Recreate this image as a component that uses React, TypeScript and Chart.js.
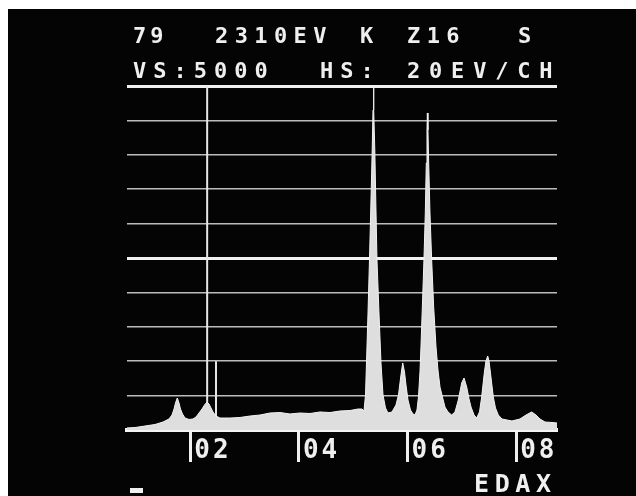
import { useEffect, useRef } from "react";
import { Chart, registerables } from "chart.js";

Chart.register(...registerables);

// ---- screen texts ----
const headerLine1 = ["79", "2310EV", "K", "Z16", "S"];
const headerLine2 = ["VS:5000", "HS:", "20EV/CH"];
const footerText = "EDAX";

// ---- axes ----
const xMinKeV = 0.834;
const xMaxKeV = 8.752;
const yMaxCounts = 5000;
const yStepCounts = 500;
const tickValues = [2, 4, 6, 8];
const tickLabels = ["02", "04", "06", "08"];

// ---- spectrum (energy in keV, counts) ----
const energies = [
  0.834, 0.981, 1.166, 1.35, 1.497, 1.607, 1.663, 1.7, 1.727, 1.76, 1.792, 1.819, 1.856, 1.902,
  1.976, 2.049, 2.105, 2.16, 2.215, 2.261, 2.307, 2.344, 2.381, 2.418, 2.473, 2.547, 2.731, 2.915,
  3.099, 3.283, 3.467, 3.651, 3.835, 4.019, 4.204, 4.388, 4.572, 4.756, 4.94, 5.087, 5.161, 5.198,
  5.226, 5.244, 5.272, 5.299, 5.327, 5.349, 5.364, 5.371, 5.382, 5.397, 5.415, 5.437, 5.474, 5.511,
  5.548, 5.594, 5.64,
  5.713, 5.787, 5.833, 5.879, 5.911, 5.944, 5.971, 6.008, 6.054, 6.1, 6.137,
  6.174, 6.201, 6.229, 6.247, 6.279, 6.302, 6.327, 6.345, 6.358, 6.365, 6.376, 6.389, 6.413, 6.444,
  6.481, 6.524, 6.56, 6.597, 6.689, 6.745, 6.813,
  6.874, 6.935, 6.997, 7.04, 7.089, 7.132, 7.169, 7.224, 7.273,
  7.325, 7.365, 7.413, 7.444, 7.476, 7.5, 7.527, 7.579, 7.619, 7.671, 7.739, 7.831, 7.923,
  8.07, 8.181, 8.286, 8.365, 8.439, 8.531, 8.66, 8.752,
];
const counts = [
  30, 36, 58, 80, 116, 160, 218, 305, 392, 465, 392, 305, 233, 174,
  153, 160, 189, 247, 305, 363, 407, 378, 320, 262, 203, 174, 174, 182,
  203, 218, 247, 254, 233, 247, 240, 262, 254, 276, 283, 305, 305, 276,
  509, 974, 1701, 2471, 3343, 4070, 4651, 5000, 4651, 4070, 3343, 2471, 1701, 974,
  509, 320, 247,
  262, 363, 509, 799, 974, 843, 654, 436, 291, 233, 218,
  291, 480, 843, 1206, 1933, 2471, 3154, 3881, 4361, 4608, 4361, 3881, 3154, 2471,
  1788, 1206, 872, 625, 334, 262, 218,
  262, 436, 683, 756, 625, 451, 334, 218, 174,
  262, 480, 828, 1003, 1076, 1003, 828, 480, 320, 218, 160, 145, 131,
  160, 218, 262, 218, 160, 116, 109, 102,
];

// ---- cursor and marker lines ----
const cursorEnergy = [2.31, 2.31];
const cursorCounts = [0, 5000];
const markerEnergy = [2.473, 2.473];
const markerCounts = [0, 1000];

const W = 628;
const H = 487;
const MONO = '"DejaVu Sans Mono", "Liberation Mono", monospace';
const TEXT_COLOR = "#efefef";

const zip = (xs: number[], ys: number[]) => xs.map((x, i) => ({ x, y: ys[i] }));

const screenText = {
  id: "screenText",
  beforeDraw(chart: any) {
    chart.ctx.letterSpacing = "3px";
  },
  afterDraw(chart: any) {
    const ctx = chart.ctx as CanvasRenderingContext2D;
    ctx.save();
    ctx.fillStyle = TEXT_COLOR;
    ctx.textAlign = "left";
    ctx.textBaseline = "alphabetic";
    ctx.font = `bold 22px ${MONO}`;
    const l1x = [125, 207, 352, 399, 510];
    const l1s = [4, 6.4, 6.4, 6.4, 6.4];
    const l2x = [125, 312, 399];
    const l2s = [7, 7, 8.8];
    headerLine1.forEach((t, i) => {
      (ctx as any).letterSpacing = `${l1s[i]}px`;
      ctx.fillText(t, l1x[i], 34);
    });
    headerLine2.forEach((t, i) => {
      (ctx as any).letterSpacing = `${l2s[i]}px`;
      ctx.fillText(t, l2x[i], 69);
    });
    ctx.font = `bold 25px ${MONO}`;
    (ctx as any).letterSpacing = "5.6px";
    ctx.fillText(footerText, 466, 483);
    ctx.fillRect(122, 479, 13, 5);
    ctx.restore();
  },
};

export default function App() {
  const ref = useRef<HTMLCanvasElement>(null);

  useEffect(() => {
    if (!ref.current) return;
    const chart = new Chart(ref.current, {
      type: "line",
      data: {
        datasets: [
          {
            data: zip(energies, counts),
            borderColor: "#f2f2f2",
            borderWidth: 1,
            backgroundColor: "#dedede",
            fill: "origin",
            pointRadius: 0,
            tension: 0,
          },
          {
            data: zip(cursorEnergy, cursorCounts),
            borderColor: "#e6e6e6",
            borderWidth: 2,
            fill: false,
            pointRadius: 0,
          },
          {
            data: zip(markerEnergy, markerCounts),
            borderColor: "#e6e6e6",
            borderWidth: 2,
            fill: false,
            pointRadius: 0,
          },
        ],
      },
      options: {
        animation: false,
        responsive: false,
        devicePixelRatio: 1,
        layout: { padding: { left: 119, right: 79, top: 77, bottom: 26 } },
        plugins: { legend: { display: false }, tooltip: { enabled: false }, title: { display: false } },
        scales: {
          x: {
            type: "linear",
            min: xMinKeV,
            max: xMaxKeV,
            afterBuildTicks: (axis: any) => {
              axis.ticks = tickValues.map((v) => ({ value: v }));
            },
            afterFit: (scale: any) => {
              scale.height = 40;
            },
            grid: {
              display: true,
              drawOnChartArea: false,
              drawTicks: true,
              tickLength: 32,
              tickWidth: 3,
              tickColor: TEXT_COLOR,
            },
            border: { display: true, color: "#f4f4f4", width: 4 },
            ticks: {
              autoSkip: false,
              maxRotation: 0,
              align: "start",
              labelOffset: 4,
              padding: -26,
              color: TEXT_COLOR,
              font: { family: MONO, size: 26, weight: "bold" },
              callback: (value: any) => {
                const i = tickValues.indexOf(Number(value));
                return i >= 0 ? tickLabels[i] : "";
              },
            },
          },
          y: {
            type: "linear",
            min: 0,
            max: yMaxCounts,
            afterFit: (scale: any) => {
              scale.width = 0;
            },
            ticks: { display: false, stepSize: yStepCounts },
            border: { display: false },
            grid: {
              drawTicks: false,
              color: (c: any) => (c.tick && c.tick.value % 2500 === 0 ? "#f0f0f0" : "#bcbcbc"),
              lineWidth: (c: any) => (c.tick && c.tick.value % 2500 === 0 ? 3 : 1.6),
            },
          },
        },
      },
      plugins: [screenText],
    });
    return () => chart.destroy();
  }, []);

  return (
    <div style={{ position: "fixed", left: 8, top: 9, width: W, height: H, background: "#040404" }}>
      <canvas ref={ref} width={W} height={H} style={{ display: "block", width: W, height: H }} />
    </div>
  );
}
